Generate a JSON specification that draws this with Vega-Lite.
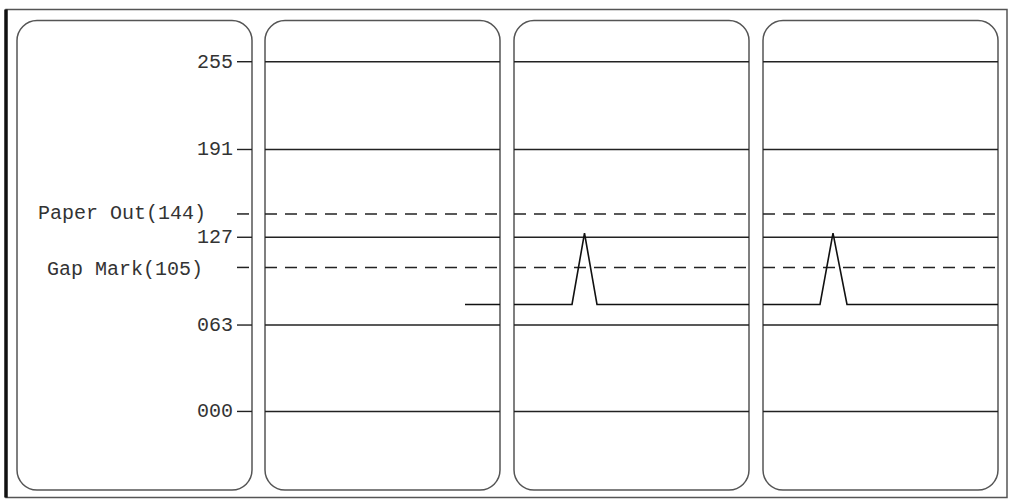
{
  "$schema": "https://vega.github.io/schema/vega-lite/v6.json",
  "width": 1012,
  "height": 501,
  "padding": 0,
  "autosize": {"type": "fit", "contains": "padding"},
  "background": "white",
  "config": {"view": {"stroke": null}},
  "datasets": {
    "frame": [{"x1": 6, "x2": 1007, "y1": 293.1, "y2": -62.7}],
    "panels": [
      {"panel": 1, "x1": 17, "x2": 252, "y1": 285.0, "y2": -57.3},
      {"panel": 2, "x1": 265, "x2": 500, "y1": 285.0, "y2": -57.3},
      {"panel": 3, "x1": 514, "x2": 749, "y1": 285.0, "y2": -57.3},
      {"panel": 4, "x1": 763, "x2": 998, "y1": 285.0, "y2": -57.3}
    ],
    "solid": [
      {"level": 255, "x1": 237, "x2": 252}, {"level": 255, "x1": 265, "x2": 500}, {"level": 255, "x1": 514, "x2": 749}, {"level": 255, "x1": 763, "x2": 998},
      {"level": 191, "x1": 237, "x2": 252}, {"level": 191, "x1": 265, "x2": 500}, {"level": 191, "x1": 514, "x2": 749}, {"level": 191, "x1": 763, "x2": 998},
      {"level": 127, "x1": 237, "x2": 252}, {"level": 127, "x1": 265, "x2": 500}, {"level": 127, "x1": 514, "x2": 749}, {"level": 127, "x1": 763, "x2": 998},
      {"level": 63, "x1": 237, "x2": 252}, {"level": 63, "x1": 265, "x2": 500}, {"level": 63, "x1": 514, "x2": 749}, {"level": 63, "x1": 763, "x2": 998},
      {"level": 0, "x1": 237, "x2": 252}, {"level": 0, "x1": 265, "x2": 500}, {"level": 0, "x1": 514, "x2": 749}, {"level": 0, "x1": 763, "x2": 998}
    ],
    "dashed": [
      {"level": 144, "x1": 237, "x2": 252}, {"level": 144, "x1": 265, "x2": 500}, {"level": 144, "x1": 514, "x2": 749}, {"level": 144, "x1": 763, "x2": 998},
      {"level": 105, "x1": 237, "x2": 252}, {"level": 105, "x1": 265, "x2": 500}, {"level": 105, "x1": 514, "x2": 749}, {"level": 105, "x1": 763, "x2": 998}
    ],
    "labels": [
      {"text": "255", "level": 255, "xpos": 233},
      {"text": "191", "level": 191, "xpos": 233},
      {"text": "Paper Out(144)", "level": 144.9, "xpos": 206},
      {"text": "127", "level": 127, "xpos": 233},
      {"text": "Gap Mark(105)", "level": 104, "xpos": 203},
      {"text": "063", "level": 63, "xpos": 233},
      {"text": "000", "level": 0, "xpos": 233}
    ],
    "signal": [
      {"seg": "a", "ord": 1, "x": 465, "v": 78},
      {"seg": "a", "ord": 2, "x": 500, "v": 78},
      {"seg": "b", "ord": 1, "x": 514, "v": 78},
      {"seg": "b", "ord": 2, "x": 572, "v": 78},
      {"seg": "b", "ord": 3, "x": 584.5, "v": 130},
      {"seg": "b", "ord": 4, "x": 597, "v": 78},
      {"seg": "b", "ord": 5, "x": 749, "v": 78},
      {"seg": "c", "ord": 1, "x": 763, "v": 78},
      {"seg": "c", "ord": 2, "x": 820, "v": 78},
      {"seg": "c", "ord": 3, "x": 833, "v": 130},
      {"seg": "c", "ord": 4, "x": 847, "v": 78},
      {"seg": "c", "ord": 5, "x": 998, "v": 78}
    ]
  },
  "layer": [
    {
      "data": {"name": "frame"},
      "mark": {"type": "rect", "fill": "white", "stroke": "#555555", "strokeWidth": 1.5},
      "encoding": {
        "x": {"field": "x1", "type": "quantitative", "scale": {"domain": [0, 1012], "nice": false, "zero": false}, "axis": null},
        "x2": {"field": "x2"},
        "y": {"field": "y1", "type": "quantitative", "scale": {"domain": [-65.3, 300.0], "nice": false, "zero": false}, "axis": null},
        "y2": {"field": "y2"}
      }
    },
    {
      "data": {"name": "frame"},
      "mark": {"type": "rule", "stroke": "#111111", "strokeWidth": 3.5},
      "encoding": {
        "x": {"field": "x1", "type": "quantitative"},
        "y": {"field": "y1", "type": "quantitative"},
        "y2": {"field": "y2"}
      }
    },
    {
      "data": {"name": "panels"},
      "mark": {"type": "rect", "fill": "white", "stroke": "#555555", "strokeWidth": 1.5, "cornerRadius": 20},
      "encoding": {
        "x": {"field": "x1", "type": "quantitative"},
        "x2": {"field": "x2"},
        "y": {"field": "y1", "type": "quantitative"},
        "y2": {"field": "y2"}
      }
    },
    {
      "data": {"name": "solid"},
      "mark": {"type": "rule", "stroke": "#222222", "strokeWidth": 1.4},
      "encoding": {
        "x": {"field": "x1", "type": "quantitative"},
        "x2": {"field": "x2"},
        "y": {"field": "level", "type": "quantitative"}
      }
    },
    {
      "data": {"name": "dashed"},
      "mark": {"type": "rule", "stroke": "#222222", "strokeWidth": 1.5, "strokeDash": [12, 8]},
      "encoding": {
        "x": {"field": "x1", "type": "quantitative"},
        "x2": {"field": "x2"},
        "y": {"field": "level", "type": "quantitative"}
      }
    },
    {
      "data": {"name": "signal"},
      "mark": {"type": "line", "stroke": "#111111", "strokeWidth": 1.6},
      "encoding": {
        "x": {"field": "x", "type": "quantitative"},
        "y": {"field": "v", "type": "quantitative"},
        "detail": {"field": "seg"},
        "order": {"field": "ord", "type": "quantitative"}
      }
    },
    {
      "data": {"name": "labels"},
      "mark": {"type": "text", "align": "right", "baseline": "middle", "font": "Liberation Mono", "fontSize": 20, "fill": "#333333"},
      "encoding": {
        "x": {"field": "xpos", "type": "quantitative"},
        "y": {"field": "level", "type": "quantitative"},
        "text": {"field": "text"}
      }
    }
  ]
}
